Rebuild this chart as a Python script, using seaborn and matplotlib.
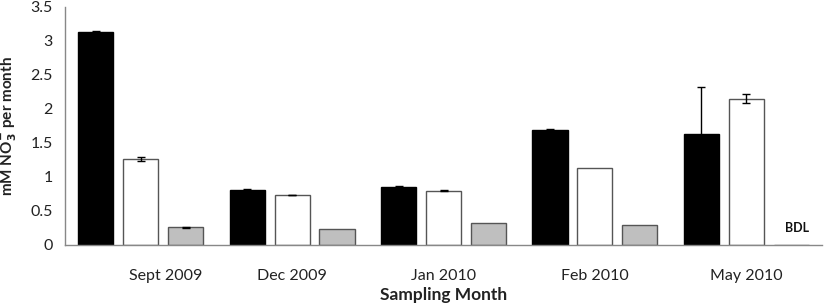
import matplotlib
matplotlib.use("Agg")
import matplotlib.pyplot as plt
import matplotlib.transforms as mtransforms
import seaborn as sns
import pandas as pd
import numpy as np

months = ["Sept 2009", "Dec 2009", "Jan 2010", "Feb 2010", "May 2010"]
series = ["A", "B", "C"]
vals_a = [3.13, 0.81, 0.86, 1.69, 1.63]
vals_b = [1.27, 0.735, 0.80, 1.13, 2.15]
vals_c = [0.26, 0.24, 0.33, 0.29, 0.0]
err_a = [0.02, 0.02, 0.015, 0.015, 0.69]
err_b = [0.03, 0.005, 0.005, 0.0, 0.065]
err_c = [0.01, 0.0, 0.0, 0.0, 0.0]
bdl_label = "BDL"

sns.set_theme(style="white")
plt.rcParams["font.family"] = ["Lato", "DejaVu Sans"]
plt.rcParams["mathtext.fontset"] = "custom"
plt.rcParams["mathtext.rm"] = "DejaVu Sans:bold"
plt.rcParams["mathtext.bf"] = "DejaVu Sans:bold"

df = pd.DataFrame({
    "month": months * 3,
    "series": [s for s in series for _ in months],
    "value": vals_a + vals_b + vals_c,
})

fig = plt.figure(figsize=(8.27, 3.08), dpi=100)
ax = fig.add_axes([65 / 827, 1 - 245 / 308, (822 - 65) / 827, (245 - 7) / 308])

palette = {"A": "#000000", "B": "#ffffff", "C": "#bfbfbf"}
sns.barplot(data=df, x="month", y="value", hue="series", order=months,
            hue_order=series, palette=palette, width=0.89, gap=0.22,
            legend=False, ax=ax, errorbar=None, saturation=1)

edges = {"A": "#000000", "B": "#555555", "C": "#555555"}
errs = err_a + err_b + err_c
for i, p in enumerate(ax.patches[:15]):
    s = series[i // 5]
    p.set_edgecolor(edges[s])
    p.set_linewidth(1.0)
    e = errs[i]
    if e > 0:
        xc = p.get_x() + p.get_width() / 2
        ax.errorbar(xc, p.get_height(), yerr=e, fmt="none", ecolor="#000000",
                    elinewidth=1.0, capsize=3, capthick=1.0, zorder=5)

# BDL label at the missing bar
bdl_patch = ax.patches[14]
ax.text(bdl_patch.get_x() + bdl_patch.get_width() / 2 + 0.04, 0.25, bdl_label,
        ha="center", va="center", fontsize=9, fontweight="bold", color="#111111")

ax.set_xlim(-0.5, 4.5)
ax.set_ylim(0, 3.5)
ax.set_yticks(np.arange(0, 3.51, 0.5))
ax.set_yticklabels(["0", "0.5", "1", "1.5", "2", "2.5", "3", "3.5"])
ax.tick_params(axis="both", length=0, labelsize=11.5, colors="#222222")
ax.tick_params(axis="x", pad=17)
ax.tick_params(axis="y", pad=9)

off = mtransforms.ScaledTranslation(25 / 100, 0, fig.dpi_scale_trans)
lbl = ax.get_xticklabels()[0]
lbl.set_transform(lbl.get_transform() + off)

for sp in ["top", "right"]:
    ax.spines[sp].set_visible(False)
for sp in ["left", "bottom"]:
    ax.spines[sp].set_color("#888888")
    ax.spines[sp].set_linewidth(1.0)

ax.set_xlabel("Sampling Month", fontsize=12.5, fontweight="bold", color="#222222", labelpad=3)
ax.set_ylabel(r"mM NO$_{3}^{-}$ per month", fontsize=11, fontweight="bold", color="#222222", labelpad=8)

fig.savefig("out.png", dpi=100)
